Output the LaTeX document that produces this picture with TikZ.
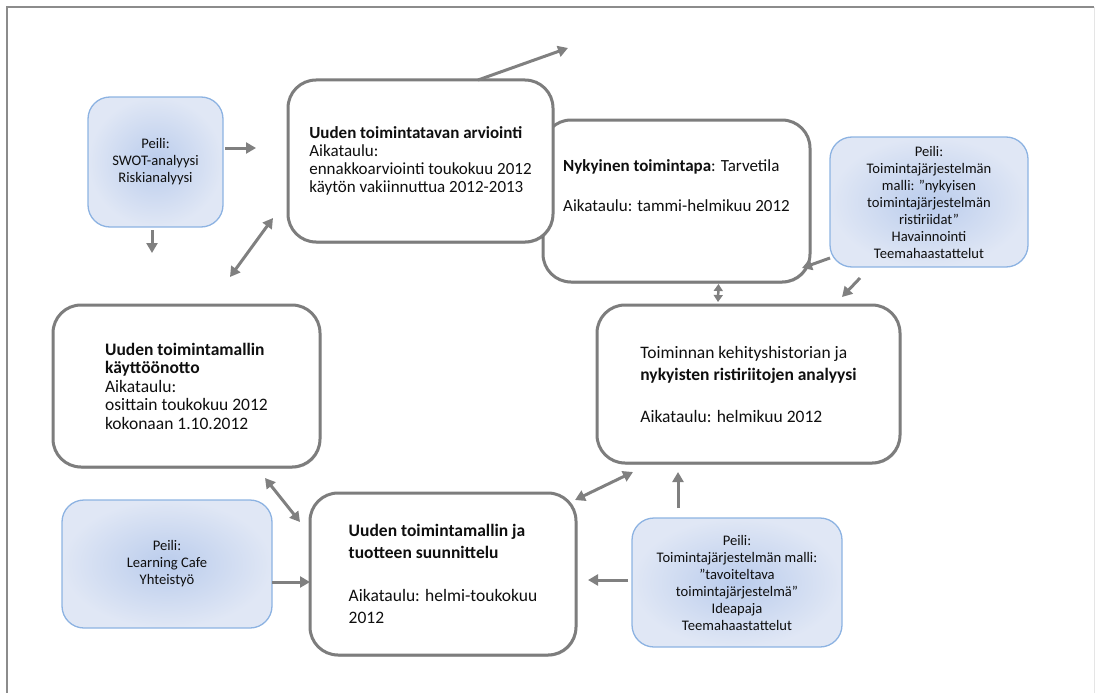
\documentclass[tikz,border=0pt]{standalone}
\usepackage{fontspec}
\setmainfont{Carlito}
\usetikzlibrary{arrows.meta,shadows}

\definecolor{boxline}{RGB}{125,125,125}
\definecolor{arrowgray}{RGB}{128,128,128}
\definecolor{mirrorline}{RGB}{141,179,226}
\definecolor{mirrorin}{RGB}{186,204,236}
\definecolor{mirrorout}{RGB}{224,231,245}
\definecolor{framegray}{RGB}{140,140,140}
\definecolor{ink}{RGB}{15,15,15}

\tikzset{
  phase/.style={draw=boxline, line width=3pt, fill=white, rounded corners=28pt,
    inner sep=0pt, outer sep=0pt, align=left, text=ink,
    drop shadow={shadow xshift=1pt, shadow yshift=-1.5pt, opacity=0.25, fill=black}},
  mirror/.style={draw=mirrorline, line width=1.3pt, inner color=mirrorin,
    outer color=mirrorout, rounded corners=22pt, inner sep=0pt, outer sep=0pt,
    align=center, text=ink, font=\fontsize{14.6}{17}\selectfont},
  flow/.style={draw=arrowgray, line width=3pt, -{Triangle[length=10pt,width=11pt]}},
  twoway/.style={draw=arrowgray, line width=3pt,
    {Triangle[length=10pt,width=11pt]}-{Triangle[length=10pt,width=11pt]}},
  tinyway/.style={draw=arrowgray, line width=2.5pt,
    {Triangle[length=7pt,width=9pt]}-{Triangle[length=7pt,width=9pt]}},
}

\begin{document}
\begin{tikzpicture}[x=1pt, y=-1pt]
\useasboundingbox (0,0) rectangle (1095,693);

% page frame
\draw[framegray, line width=1.5pt] (7,693) -- (7,7) -- (1094,7);
\draw[black!10, line width=1pt] (1094,7) -- (1094,693);

% phases of the cycle
\node[phase, minimum width=267pt, minimum height=162pt,
      font=\fontsize{17}{20}\selectfont] (B) at (676.5,201)
  {\textbf{Nykyinen toimintapa}: Tarvetila\\[20pt]Aikataulu: tammi-helmikuu 2012\\[4pt]\strut};
\node[phase, minimum width=265pt, minimum height=162pt,
      font=\fontsize{17}{18}\selectfont] (A) at (420.5,161)
  {\textbf{Uuden toimintatavan arviointi}\\Aikataulu:\\ennakkoarviointi toukokuu 2012\\käytön vakiinnuttua 2012-2013};
\node[phase, minimum width=303pt, minimum height=158pt,
      font=\fontsize{17.5}{22}\selectfont] (C) at (748.5,384)
  {Toiminnan kehityshistorian ja\\\textbf{nykyisten ristiriitojen analyysi}\\[20pt]Aikataulu: helmikuu 2012};
\node[phase, minimum width=266pt, minimum height=162pt,
      font=\fontsize{17.5}{22}\selectfont] (D) at (443,574)
  {\textbf{Uuden toimintamallin ja}\\\textbf{tuotteen suunnittelu}\\[21pt]Aikataulu: helmi-toukokuu\\2012};
\node[phase, minimum width=267pt, minimum height=162pt,
      font=\fontsize{17.5}{18.5}\selectfont] (E) at (186.5,386)
  {\textbf{Uuden toimintamallin}\\\textbf{käyttöönotto}\\Aikataulu:\\osittain toukokuu 2012\\kokonaan 1.10.2012};

% mirrors
\node[mirror, minimum width=135pt, minimum height=130pt] (swot) at (155.5,162)
  {Peili:\\SWOT-analyysi\\Riskianalyysi};
\node[mirror, minimum width=198pt, minimum height=130pt] (now) at (929,202)
  {Peili:\\Toimintajärjestelmän\\malli: ”nykyisen\\toimintajärjestelmän\\ristiriidat”\\Havainnointi\\Teemahaastattelut};
\node[mirror, minimum width=210pt, minimum height=129pt] (goal) at (737,582.5)
  {Peili:\\Toimintajärjestelmän malli:\\”tavoiteltava\\toimintajärjestelmä”\\Ideapaja\\Teemahaastattelut};
\node[mirror, minimum width=210pt, minimum height=128pt] (cafe) at (167,564)
  {Peili:\\Learning Cafe\\Yhteistyö};

% connectors
\coordinate (out) at ([shift={(147.5pt,32pt)}]A.north);
\draw[flow] ([shift={(57.5pt,0pt)}]A.north) -- (out);
\draw[flow] ([shift={(2pt,14pt)}]swot.east) -- ++(31,0);
\draw[flow] ([shift={(-3.5pt,-3pt)}]swot.south) -- ++(0,23);
\draw[twoway] ([shift={(-90pt,28pt)}]E.north east) -- ([shift={(-15pt,24pt)}]A.south west);
\draw[flow] ([shift={(0pt,9pt)}]now.south west) -- ([shift={(-8pt,14pt)}]B.south east);
\draw[flow] ([shift={(-69pt,-11pt)}]now.south) -- ([shift={(93.5pt,8pt)}]C.north);
\draw[tinyway] ([shift={(42pt,-2pt)}]B.south) -- ([shift={(-30.5pt,3pt)}]C.north);
\draw[flow] ([shift={(-59pt,10pt)}]goal.north) -- ([shift={(-70.5pt,-9pt)}]C.south);
\draw[twoway] ([shift={(-1pt,-7pt)}]D.north east) -- ([shift={(36pt,-9pt)}]C.south west);
\draw[flow] ([shift={(-4pt,2.5pt)}]goal.west) -- ([shift={(12pt,-6pt)}]D.east);
\draw[flow] ([shift={(0pt,-18pt)}]cafe.east) -- ([shift={(0pt,-8pt)}]D.west);
\draw[twoway] ([shift={(-55pt,-11pt)}]E.south east) -- ([shift={(-10pt,-29pt)}]D.north west);
\end{tikzpicture}
\end{document}
